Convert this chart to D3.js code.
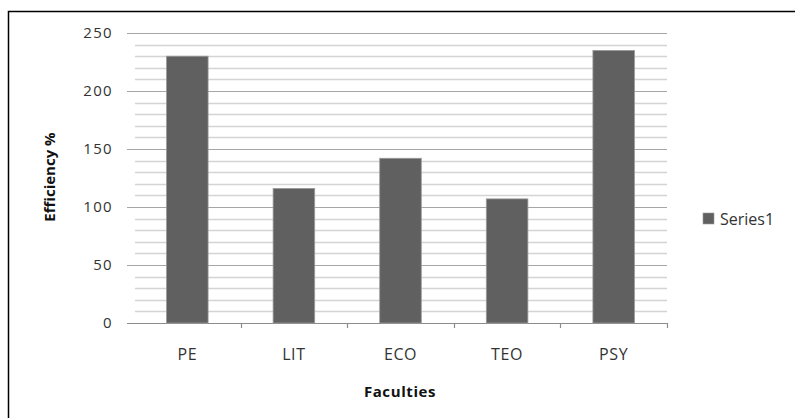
<!DOCTYPE html>
<html><head><meta charset="utf-8">
<script src="https://cdn.jsdelivr.net/npm/d3@7"></script>
<style>body{margin:0;background:#fff}svg{display:block}text{font-family:"Open Sans",sans-serif}</style>
</head><body><svg id="c" width="795" height="418"></svg>
<script>
const categories = ["PE","LIT","ECO","TEO","PSY"];
const values = [230, 116, 142, 107, 235];
const yTicks = [0,50,100,150,200,250];
const minorTicks = d3.range(0,251,10);
const seriesName = "Series1";

const svg = d3.select("#c");
svg.append("rect").attr("x",8.5).attr("y",11.5).attr("width",800).attr("height",420)
  .attr("fill","none").attr("stroke","#000").attr("stroke-width",1.5);

const x = d3.scaleBand().domain(categories).range([134,667]).paddingInner(0.61).paddingOuter(0.305);
const xb = d3.scaleBand().domain(categories).range([134,667]);
const y = d3.scaleLinear().domain([0,250]).range([323,33]);

// minor grid
svg.append("g").selectAll("line").data(minorTicks.filter(d=>d%50!==0)).join("line")
  .attr("x1",135).attr("x2",667).attr("y1",d=>Math.round(y(d))+0.5).attr("y2",d=>Math.round(y(d))+0.5)
  .attr("stroke","#d4d4d4").attr("stroke-width",1.5);
// major grid
svg.append("g").selectAll("line").data(yTicks).join("line")
  .attr("x1",127).attr("x2",667).attr("y1",d=>Math.round(y(d))+0.5).attr("y2",d=>Math.round(y(d))+0.5)
  .attr("stroke",d=>d===0?"#8c8c8c":"#a6a6a6").attr("stroke-width",1.2);

// y labels
svg.append("g").selectAll("text").data(yTicks).join("text")
  .attr("x",113).attr("y",d=>y(d)).attr("dy","0.35em").attr("text-anchor","end")
  .attr("font-size",15).attr("letter-spacing",1.3).attr("fill","#333").text(d=>d);

// bars
svg.append("g").selectAll("rect").data(values).join("rect")
  .attr("x",(d,i)=>x(categories[i])).attr("width",x.bandwidth())
  .attr("y",d=>y(d)).attr("height",d=>y(0)-y(d))
  .attr("fill","#606060").attr("stroke","#9a9a9a").attr("stroke-width",0.8);

// x ticks at boundaries
svg.append("g").selectAll("line").data(categories.slice(1).concat(["_end"])).join("line")
  .attr("x1",(d,i)=>Math.round(xb(categories[i])+xb.bandwidth())+0.5)
  .attr("x2",(d,i)=>Math.round(xb(categories[i])+xb.bandwidth())+0.5)
  .attr("y1",323).attr("y2",328).attr("stroke","#8c8c8c").attr("stroke-width",1.2);

// x labels
svg.append("g").selectAll("text").data(categories).join("text")
  .attr("x",d=>xb(d)+xb.bandwidth()/2).attr("y",354).attr("dy","0.35em").attr("text-anchor","middle")
  .attr("font-size",16).attr("letter-spacing",0.6).attr("fill","#333").text(d=>d);

// axis titles
svg.append("text").attr("x",400).attr("y",392).attr("dy","0.35em").attr("text-anchor","middle")
  .attr("font-size",15).attr("letter-spacing",0.6).attr("font-weight","bold").attr("fill","#111").text("Faculties");
svg.append("text").attr("transform","translate(50,177) rotate(-90)").attr("dy","0.35em")
  .attr("text-anchor","middle").attr("font-size",15).attr("font-weight","bold").attr("fill","#111").text("Efficiency %");

// legend
const lg = svg.append("g").attr("transform","translate(703,213)");
lg.append("rect").attr("width",11).attr("height",11).attr("fill","#606060").attr("stroke","#9a9a9a").attr("stroke-width",0.6);
lg.append("text").attr("x",17).attr("y",6).attr("dy","0.35em").attr("font-size",16).attr("fill","#333").text(seriesName);
</script></body></html>
